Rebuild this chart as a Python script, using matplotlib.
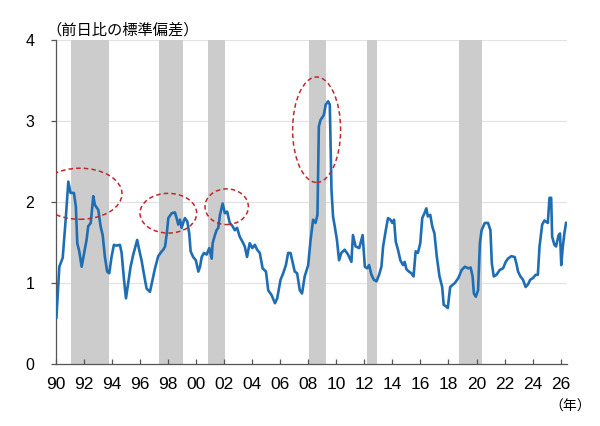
import matplotlib
matplotlib.use("Agg")
import matplotlib.pyplot as plt
from matplotlib.patches import Ellipse

plt.rcParams['font.family'] = ['Liberation Sans', 'Noto Sans CJK JP', 'DejaVu Sans']

# 前日比の標準偏差（年, 値）
years = [
    1990.05, 1990.26, 1990.5, 1990.73, 1990.9, 1991.06, 1991.3, 1991.44, 1991.54, 1991.68,
    1991.85, 1992.03, 1992.2, 1992.32, 1992.5, 1992.68, 1992.8, 1993.04, 1993.2, 1993.35,
    1993.51, 1993.67, 1993.82, 1993.98, 1994.15, 1994.35, 1994.58, 1994.7, 1994.87, 1995.01,
    1995.17, 1995.34, 1995.53, 1995.72, 1995.81, 1995.95, 1996.12, 1996.28, 1996.48, 1996.72,
    1996.91, 1997.08, 1997.31, 1997.56, 1997.67, 1997.8, 1997.92, 1998.03, 1998.27, 1998.5,
    1998.62, 1998.74, 1998.86, 1998.98, 1999.09, 1999.21, 1999.38, 1999.52, 1999.62, 1999.8,
    1999.99, 2000.17, 2000.29, 2000.41, 2000.57, 2000.76, 2000.95, 2001.12, 2001.19, 2001.35,
    2001.47, 2001.59, 2001.71, 2001.9, 2002.06, 2002.22, 2002.41, 2002.61, 2002.77, 2002.93,
    2003.12, 2003.31, 2003.48, 2003.64, 2003.83, 2004.02, 2004.2, 2004.36, 2004.55, 2004.75,
    2004.99, 2005.15, 2005.39, 2005.63, 2005.79, 2006.03, 2006.22, 2006.41, 2006.57, 2006.74,
    2006.88, 2007.04, 2007.21, 2007.4, 2007.56, 2007.75, 2008.0, 2008.17, 2008.35, 2008.52,
    2008.66, 2008.76, 2008.88, 2009.11, 2009.25, 2009.42, 2009.54, 2009.66, 2009.77, 2009.89,
    2010.05, 2010.2, 2010.36, 2010.6, 2010.84, 2011.08, 2011.19, 2011.38, 2011.64, 2011.88,
    2012.04, 2012.2, 2012.34, 2012.51, 2012.68, 2012.87, 2013.05, 2013.22, 2013.34, 2013.53,
    2013.69, 2013.86, 2014.0, 2014.12, 2014.24, 2014.4, 2014.57, 2014.76, 2014.88, 2015.0,
    2015.18, 2015.35, 2015.51, 2015.66, 2015.82, 2015.99, 2016.13, 2016.29, 2016.42, 2016.53,
    2016.7, 2016.84, 2017.0, 2017.17, 2017.36, 2017.55, 2017.66, 2017.83, 2017.95, 2018.12,
    2018.46, 2018.7, 2018.94, 2019.17, 2019.41, 2019.58, 2019.72, 2019.81, 2019.95, 2020.11,
    2020.24, 2020.36, 2020.59, 2020.82, 2020.99, 2021.09, 2021.23, 2021.42, 2021.65, 2021.89,
    2022.08, 2022.24, 2022.48, 2022.72, 2022.84, 2022.96, 2023.13, 2023.31, 2023.5, 2023.66,
    2023.83, 2024.02, 2024.21, 2024.37, 2024.49, 2024.68, 2024.84, 2025.08, 2025.2, 2025.32,
    2025.39, 2025.55, 2025.67, 2025.85, 2025.95, 2026.04, 2026.14, 2026.26, 2026.38,
]
values = [
    0.57, 1.2, 1.31, 1.82, 2.25, 2.11, 2.11, 1.94, 1.49, 1.39,
    1.2, 1.37, 1.53, 1.7, 1.74, 2.07, 1.96, 1.9, 1.7, 1.59,
    1.32, 1.14, 1.12, 1.32, 1.47, 1.46, 1.47, 1.37, 1.04, 0.81,
    1.0, 1.2, 1.35, 1.47, 1.53, 1.41, 1.28, 1.12, 0.93, 0.89,
    1.04, 1.18, 1.33, 1.39, 1.41, 1.45, 1.61, 1.8, 1.86, 1.87,
    1.8, 1.72, 1.78, 1.68, 1.74, 1.8, 1.76, 1.61, 1.39, 1.32,
    1.28, 1.14, 1.2, 1.32, 1.37, 1.35, 1.43, 1.3, 1.49, 1.59,
    1.65, 1.68, 1.84, 1.98, 1.86, 1.88, 1.74, 1.7, 1.65, 1.68,
    1.57, 1.51, 1.45, 1.32, 1.49, 1.43, 1.47, 1.41, 1.37, 1.18,
    1.14, 0.91, 0.85, 0.75, 0.81, 1.04, 1.12, 1.22, 1.37, 1.37,
    1.26, 1.14, 1.12, 0.91, 0.87, 1.08, 1.22, 1.53, 1.78, 1.74,
    1.84, 2.93, 3.01, 3.07, 3.2, 3.24, 3.2, 2.15, 1.82, 1.7,
    1.53, 1.28, 1.37, 1.41, 1.35, 1.26, 1.59, 1.45, 1.43, 1.59,
    1.2, 1.18, 1.22, 1.1, 1.04, 1.02, 1.1, 1.2, 1.45, 1.65,
    1.8, 1.78, 1.74, 1.78, 1.51, 1.41, 1.28, 1.22, 1.26, 1.17,
    1.14, 1.12, 1.08, 1.39, 1.37, 1.49, 1.8, 1.86, 1.92, 1.82,
    1.84, 1.7, 1.61, 1.32, 1.08, 0.95, 0.73, 0.71, 0.69, 0.95,
    1.0, 1.06, 1.16, 1.2, 1.18, 1.19, 1.08, 0.87, 0.83, 0.91,
    1.49, 1.65, 1.74, 1.74, 1.65, 1.24, 1.08, 1.1, 1.16, 1.18,
    1.26, 1.3, 1.33, 1.32, 1.24, 1.14, 1.08, 1.04, 0.95, 0.98,
    1.04, 1.06, 1.1, 1.1, 1.45, 1.72, 1.77, 1.74, 2.05, 2.05,
    1.57, 1.47, 1.45, 1.59, 1.61, 1.22, 1.43, 1.61, 1.74,
]

# 景気後退期（開始, 終了）
recessions = [
    (1991.08, 1993.8), (1997.33, 1999.05), (2000.83, 2002.05),
    (2008.08, 2009.25), (2012.2, 2012.9), (2018.78, 2020.38),
]

# 注目箇所の楕円（中心x, 中心y, 幅, 高さ）
highlights = [
    (1991.73, 2.10, 5.99, 0.63),
    (1998.03, 1.86, 4.04, 0.49),
    (2002.19, 1.94, 3.09, 0.44),
    (2008.60, 2.89, 3.42, 1.30),
]

xticks = list(range(1990, 2027, 2))
xlabels = [f"{t % 100:02d}" for t in xticks]
yticks = [0, 1, 2, 3, 4]

fig = plt.figure(figsize=(6, 4.26), dpi=100)
ax = fig.add_axes([0.0928, 0.1455, 0.8527, 0.7613])

for y in yticks[1:]:
    ax.axhline(y, color='#e3e3e3', linewidth=0.9, zorder=0)

for start, end in recessions:
    ax.axvspan(start, end, color='#cccccc', linewidth=0, zorder=1)

ax.plot(years, values, color='#1f6eb4', linewidth=1.9, zorder=3)

for cx, cy, w, h in highlights:
    ax.add_patch(Ellipse((cx, cy), w, h, fill=False, edgecolor='#c0282d',
                         linestyle=(0, (3, 2)), linewidth=1.1, zorder=4))

ax.set_xlim(1990, 2026.47)
ax.set_ylim(0, 4)
ax.set_xticks(xticks)
ax.set_xticklabels(xlabels)
ax.set_yticks(yticks)

for side in ('top', 'right'):
    ax.spines[side].set_visible(False)
for side in ('left', 'bottom'):
    ax.spines[side].set_color('#555555')
    ax.spines[side].set_linewidth(0.9)

ax.tick_params(axis='x', direction='in', length=3.5, width=0.9, color='#555555',
               labelsize=12.5, pad=9)
ax.tick_params(axis='y', direction='out', length=3.5, width=0.9, color='#555555',
               labelsize=11.5, pad=12)

fig.text(0.078, 0.93, '（前日比の標準偏差）', fontsize=11, va='center', ha='left',
         family=['Noto Sans CJK JP', 'DejaVu Sans'])
fig.text(0.985, 0.045, '（年）', fontsize=10, va='center', ha='right',
         family=['Noto Sans CJK JP', 'DejaVu Sans'])

fig.savefig('out.png', dpi=100)
